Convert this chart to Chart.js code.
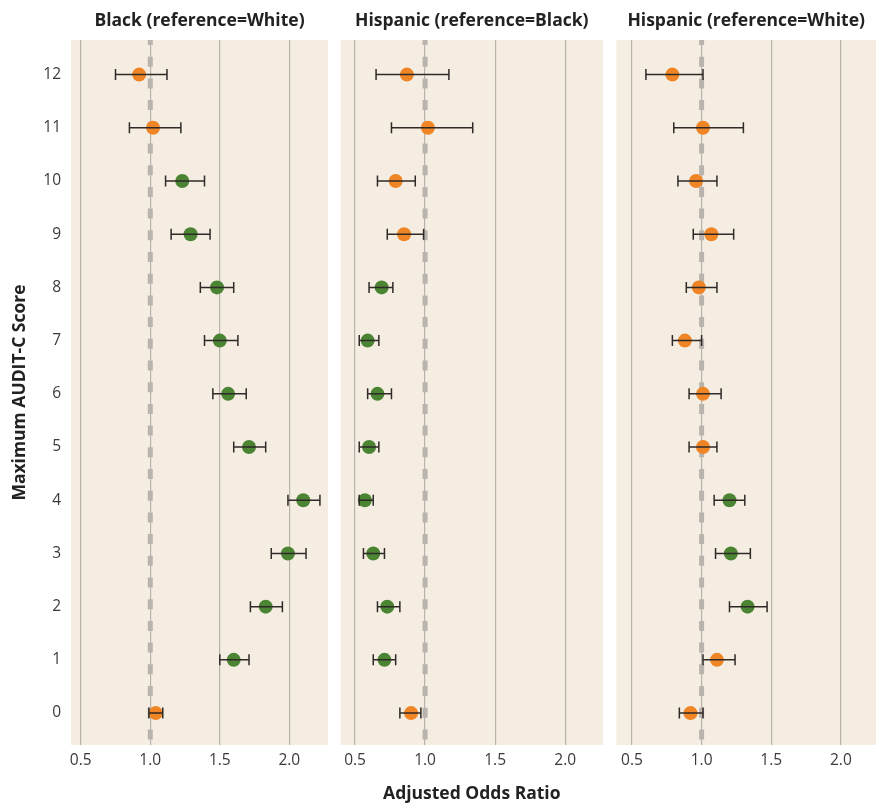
<!DOCTYPE html>
<html>
<head>
<meta charset="utf-8">
<script src="https://cdn.jsdelivr.net/npm/chart.js@4.4.0/dist/chart.umd.min.js"></script>
<style>
    body { margin: 0; background: #ffffff; }
    #wrap { position: relative; width: 876px; height: 806px; overflow: hidden; }
    #wrap canvas { position: absolute; top: 0; }
</style>
</head>
<body>
<div id="wrap">
    <canvas id="panel1" width="328" height="806" style="left:0px;width:328px;height:806px"></canvas>
    <canvas id="panel2" width="265" height="806" style="left:338px;width:265px;height:806px"></canvas>
    <canvas id="panel3" width="261" height="806" style="left:615px;width:261px;height:806px"></canvas>
</div>
<script>
// Maximum AUDIT-C score (y categories)
const scores = [0, 1, 2, 3, 4, 5, 6, 7, 8, 9, 10, 11, 12];
const xTicks = [0.5, 1.0, 1.5, 2.0];

// Black (reference=White)
const blackWhiteOR = [1.04, 1.60, 1.83, 1.99, 2.10, 1.71, 1.56, 1.50, 1.48, 1.29, 1.23, 1.02, 0.92];
const blackWhiteLo = [0.99, 1.50, 1.72, 1.87, 1.99, 1.60, 1.45, 1.39, 1.36, 1.15, 1.11, 0.85, 0.75];
const blackWhiteHi = [1.09, 1.71, 1.95, 2.12, 2.22, 1.83, 1.69, 1.63, 1.60, 1.43, 1.39, 1.22, 1.12];
const blackWhiteSig = [0, 1, 1, 1, 1, 1, 1, 1, 1, 1, 1, 0, 0];

// Hispanic (reference=Black)
const hispBlackOR = [0.90, 0.71, 0.73, 0.63, 0.57, 0.60, 0.66, 0.59, 0.69, 0.85, 0.79, 1.02, 0.87];
const hispBlackLo = [0.82, 0.63, 0.66, 0.56, 0.53, 0.53, 0.59, 0.53, 0.60, 0.73, 0.66, 0.76, 0.65];
const hispBlackHi = [0.97, 0.79, 0.82, 0.71, 0.63, 0.67, 0.76, 0.67, 0.77, 0.99, 0.93, 1.34, 1.17];
const hispBlackSig = [0, 1, 1, 1, 1, 1, 1, 1, 1, 0, 0, 0, 0];

// Hispanic (reference=White)
const hispWhiteOR = [0.92, 1.11, 1.33, 1.21, 1.20, 1.01, 1.01, 0.88, 0.98, 1.07, 0.96, 1.01, 0.79];
const hispWhiteLo = [0.84, 1.01, 1.20, 1.10, 1.09, 0.91, 0.91, 0.79, 0.89, 0.94, 0.83, 0.80, 0.60];
const hispWhiteHi = [1.01, 1.24, 1.47, 1.35, 1.31, 1.11, 1.14, 1.00, 1.11, 1.23, 1.11, 1.30, 1.01];
const hispWhiteSig = [0, 0, 1, 1, 1, 0, 0, 0, 0, 0, 0, 0, 0];

const ORANGE = '#EF8524';
const GREEN = '#4B8534';
const PANEL_BG = '#F5EDE1';
const FONT = '"Open Sans", Lato, sans-serif';

// panel background, reference line and error bars
const forestPlugin = {
    id: 'forest',
    beforeDraw(chart) {
        const a = chart.chartArea;
        const ctx = chart.ctx;
        ctx.save();
        ctx.fillStyle = PANEL_BG;
        ctx.fillRect(a.left, a.top, a.right - a.left, a.bottom - a.top);
        ctx.restore();
    },
    beforeDatasetsDraw(chart) {
        const a = chart.chartArea;
        const ctx = chart.ctx;
        const x = chart.scales.x.getPixelForValue(1.0);
        ctx.save();
        ctx.strokeStyle = '#B9B3AE';
        ctx.lineWidth = 5;
        ctx.setLineDash([10, 11.7]);
        ctx.lineDashOffset = 5;
        ctx.beginPath();
        ctx.moveTo(x, a.top);
        ctx.lineTo(x, a.bottom);
        ctx.stroke();
        ctx.restore();
    },
    afterDatasetsDraw(chart) {
        const ctx = chart.ctx;
        const xs = chart.scales.x, ys = chart.scales.y;
        const lo = chart.options.plugins.forest.lo;
        const hi = chart.options.plugins.forest.hi;
        ctx.save();
        ctx.strokeStyle = '#2E2A28';
        ctx.lineWidth = 1.5;
        for (let i = 0; i < scores.length; i++) {
            const y = ys.getPixelForValue(scores[i]);
            const x1 = xs.getPixelForValue(lo[i]);
            const x2 = xs.getPixelForValue(hi[i]);
            ctx.beginPath();
            ctx.moveTo(x1, y); ctx.lineTo(x2, y);
            ctx.moveTo(x1, y - 5.5); ctx.lineTo(x1, y + 5.5);
            ctx.moveTo(x2, y - 5.5); ctx.lineTo(x2, y + 5.5);
            ctx.stroke();
        }
        ctx.restore();
    }
};

function makePanel(id, title, ors, lo, hi, sig, opt) {
    const ctx = document.getElementById(id).getContext('2d');
    return new Chart(ctx, {
        type: 'scatter',
        data: {
            datasets: [{
                data: scores.map((s, i) => ({ x: ors[i], y: s })),
                pointRadius: 7,
                pointHoverRadius: 7,
                pointBorderWidth: 0,
                pointBackgroundColor: sig.map(v => v ? GREEN : ORANGE)
            }]
        },
        options: {
            responsive: false,
            animation: false,
            events: [],
            layout: {
                autoPadding: false,
                padding: { left: opt.showY ? 8 : 0, right: 0, top: 0, bottom: 0 }
            },
            plugins: {
                legend: { display: false },
                tooltip: { enabled: false },
                title: {
                    display: true,
                    text: title,
                    fullSize: false,
                    color: '#222222',
                    font: { family: FONT, size: 17.5, weight: 'bold' },
                    padding: { top: 11, bottom: 8 }
                },
                forest: { lo: lo, hi: hi }
            },
            scales: {
                x: {
                    type: 'linear',
                    min: opt.xMin,
                    max: opt.xMax,
                    afterBuildTicks: s => { s.ticks = xTicks.map(v => ({ value: v })); },
                    afterFit: s => { s.height = 61; },
                    grid: { color: '#B8B2AC', lineWidth: 1.2, drawTicks: false },
                    border: { display: false },
                    ticks: {
                        padding: 6,
                        color: '#3A3A3A',
                        font: { family: FONT, size: 15.5 },
                        callback: v => v.toFixed(1)
                    },
                    title: {
                        display: opt.showXTitle,
                        text: 'Adjusted Odds Ratio',
                        color: '#222222',
                        font: { family: FONT, size: 17.5, weight: 'bold' },
                        padding: { top: 0, bottom: 1 }
                    }
                },
                y: {
                    type: 'linear',
                    display: opt.showY,
                    min: -0.6,
                    max: 12.65,
                    afterBuildTicks: s => { s.ticks = scores.map(v => ({ value: v })); },
                    afterFit: s => { if (opt.showY) s.width = 63; },
                    grid: { display: false, drawTicks: false },
                    border: { display: false },
                    ticks: {
                        padding: 10,
                        color: '#3A3A3A',
                        font: { family: FONT, size: 15.5 }
                    },
                    title: {
                        display: opt.showY,
                        text: 'Maximum AUDIT-C Score',
                        color: '#222222',
                        font: { family: FONT, size: 17.5, weight: 'bold' },
                        padding: { top: 2, bottom: 0 }
                    }
                }
            }
        },
        plugins: [forestPlugin]
    });
}

makePanel('panel1', 'Black (reference=White)', blackWhiteOR, blackWhiteLo, blackWhiteHi, blackWhiteSig,
    { showY: true, showXTitle: false, xMin: 0.43, xMax: 2.278 });
makePanel('panel2', 'Hispanic (reference=Black)', hispBlackOR, hispBlackLo, hispBlackHi, hispBlackSig,
    { showY: false, showXTitle: true, xMin: 0.397, xMax: 2.27 });
makePanel('panel3', 'Hispanic (reference=White)', hispWhiteOR, hispWhiteLo, hispWhiteHi, hispWhiteSig,
    { showY: false, showXTitle: false, xMin: 0.388, xMax: 2.252 });
</script>
</body>
</html>
